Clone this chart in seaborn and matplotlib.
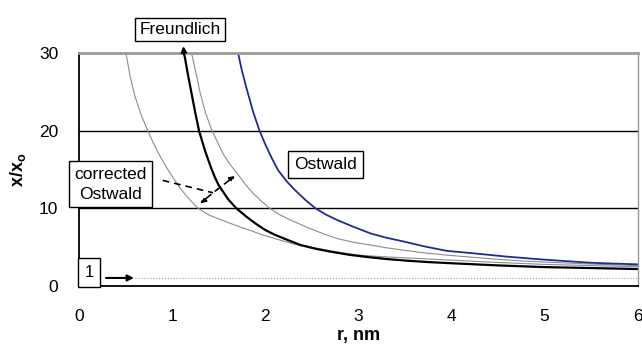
import numpy as np
import pandas as pd
import matplotlib
matplotlib.use('Agg')
import matplotlib.pyplot as plt
import seaborn as sns

# Values
r_ostwald = [1.71, 1.75, 1.80, 1.87, 1.94, 2.00, 2.07, 2.14, 2.23, 2.32, 2.43, 2.54, 2.65, 2.77,
             2.95, 3.13, 3.30, 3.49, 3.70, 3.95, 4.24, 4.60, 4.96, 5.20, 5.49, 5.75, 6.00]
y_ostwald = [30.0, 27.8, 25.5, 22.5, 20.0, 18.3, 16.5, 14.9, 13.5, 12.35, 11.1, 10.0, 9.2, 8.5,
             7.6, 6.76, 6.2, 5.7, 5.1, 4.5, 4.18, 3.75, 3.4, 3.2, 2.97, 2.85, 2.76]

r_freundlich = [1.13, 1.17, 1.21, 1.25, 1.29, 1.355, 1.42, 1.46, 1.50, 1.60, 1.69, 1.80, 1.90, 2.00,
                2.10, 2.20, 2.38, 2.55, 2.70, 2.90, 3.10, 3.30, 3.50, 3.75, 4.00, 4.50, 5.00, 5.50,
                6.00]
y_freundlich = [30.0, 27.3, 24.8, 22.3, 20.0, 17.4, 15.2, 14.0, 13.0, 11.2, 10.0, 8.9, 8.0, 7.2,
                6.6, 6.1, 5.25, 4.75, 4.4, 4.0, 3.7, 3.45, 3.25, 3.05, 2.9, 2.62, 2.4, 2.28,
                2.15]

r_corr_upper = [1.21, 1.26, 1.30, 1.36, 1.43, 1.55, 1.62, 1.70, 1.78, 1.85, 1.95, 2.05, 2.15, 2.27,
                2.40, 2.52, 2.65, 2.77, 2.95, 3.13, 3.30, 3.48, 3.70, 3.95, 4.20, 4.50, 4.75, 5.00,
                5.50, 6.00]
y_corr_upper = [30.0, 27.3, 25.0, 22.3, 20.0, 17.0, 15.7, 14.5, 13.2, 12.2, 11.0, 10.0, 9.2, 8.5,
                7.8, 7.2, 6.6, 6.1, 5.6, 5.25, 4.9, 4.6, 4.25, 3.95, 3.7, 3.4, 3.2, 3.05,
                2.8, 2.6]

r_corr_lower = [0.505, 0.55, 0.60, 0.67, 0.74, 0.80, 0.85, 0.90, 0.96, 1.03, 1.10, 1.19, 1.28, 1.40,
                1.55, 1.66, 1.75, 1.85, 1.95, 2.10, 2.30, 2.55, 2.80, 3.00, 3.25, 3.50, 3.75, 4.00,
                4.50, 5.00, 5.50, 6.00]
y_corr_lower = [30.0, 27.0, 24.5, 22.0, 20.0, 18.4, 17.2, 16.1, 14.9, 13.6, 12.4, 11.1, 10.0, 9.1,
                8.4, 7.9, 7.5, 7.1, 6.65, 6.1, 5.4, 4.85, 4.3, 3.95, 3.75, 3.6, 3.45, 3.3,
                3.0, 2.75, 2.6, 2.45]

r_one = [0.6, 6.0]
y_one = [1.0, 1.0]

sns.set_style('white')
plt.rcParams['font.family'] = ['Liberation Sans', 'DejaVu Sans']
plt.rcParams['mathtext.fontset'] = 'custom'
plt.rcParams['mathtext.rm'] = 'Liberation Sans'
plt.rcParams['mathtext.bf'] = 'Liberation Sans:bold'
plt.rcParams['text.color'] = 'black'
plt.rcParams['axes.labelcolor'] = 'black'
plt.rcParams['xtick.color'] = 'black'
plt.rcParams['ytick.color'] = 'black'

fig = plt.figure(figsize=(6.42, 3.56), dpi=100)
ax = fig.add_axes([0.123, 0.1975, 0.870, 0.6525])

# grid lines at 10 and 20
for gy in [10, 20]:
    ax.axhline(gy, color='black', lw=1.0, zorder=1)

gray = '#8c8c8c'
sns.lineplot(x=r_one, y=y_one, ax=ax, color='#a0a0a0', lw=0.8, linestyle=':')
sns.lineplot(x=r_corr_lower, y=y_corr_lower, ax=ax, color=gray, lw=0.8, sort=False)
sns.lineplot(x=r_corr_upper, y=y_corr_upper, ax=ax, color=gray, lw=0.8, sort=False)
sns.lineplot(x=r_freundlich, y=y_freundlich, ax=ax, color='black', lw=1.6, sort=False)
sns.lineplot(x=r_ostwald, y=y_ostwald, ax=ax, color='#1f2b9c', lw=1.3, sort=False)

ax.set_xlim(0, 6)
ax.set_ylim(0, 30)
ax.set_xticks([0, 1, 2, 3, 4, 5, 6])
ax.set_yticks([0, 10, 20, 30])
ax.tick_params(axis='both', direction='out', length=5, width=1.2, color='black',
               labelsize=12.5, labelcolor='black')
ax.tick_params(axis='y', pad=10)
ax.tick_params(axis='x', pad=12)

for side in ['left', 'bottom']:
    ax.spines[side].set_color('black')
    ax.spines[side].set_linewidth(1.3)
ax.spines['top'].set_color('#999999')
ax.spines['top'].set_linewidth(2.0)
ax.spines['right'].set_color('#999999')
ax.spines['right'].set_linewidth(1.0)

ax.set_xlabel('r, nm', fontsize=13, fontweight='bold', labelpad=2, color='black')
ax.set_ylabel(r'$\mathbf{x/x_o}$', fontsize=13, labelpad=8, color='black')

# Freundlich label with arrow from the curve
ax.text(1.086, 33.1, 'Freundlich', ha='center', va='center', fontsize=12.5,
        bbox=dict(boxstyle='square,pad=0.25', fc='white', ec='black', lw=1.0),
        clip_on=False)
ax.annotate('', xy=(1.12, 31.3), xytext=(1.13, 29.5),
            arrowprops=dict(arrowstyle='-|>', color='black', lw=1.5,
                            mutation_scale=8), annotation_clip=False)

# Ostwald label
ax.text(2.645, 15.6, 'Ostwald', ha='center', va='center', fontsize=12.5,
        bbox=dict(boxstyle='square,pad=0.35', fc='white', ec='black', lw=1.0), zorder=5)

# corrected Ostwald label with dashed arrows
ax.text(0.34, 13.1, 'corrected\nOstwald', ha='center', va='center', fontsize=12.5,
        bbox=dict(boxstyle='square,pad=0.3', fc='white', ec='black', lw=1.0),
        linespacing=1.45, clip_on=False, zorder=5)
ax.plot([0.90, 1.44], [13.6, 12.0], color='black', lw=1.2, linestyle=(0, (4, 3)))
for tx, ty in [(1.70, 14.4), (1.28, 10.4)]:
    ax.annotate('', xy=(tx, ty), xytext=(1.44, 12.0),
                arrowprops=dict(arrowstyle='-|>', color='black', lw=1.2,
                                linestyle=(0, (4, 3)), mutation_scale=8))

# "1" label with arrow
ax.text(0.11, 1.7, '1', ha='center', va='center', fontsize=12,
        bbox=dict(boxstyle='square,pad=0.4', fc='white', ec='black', lw=1.0),
        zorder=5, clip_on=False)
ax.annotate('', xy=(0.62, 1.0), xytext=(0.26, 1.0),
            arrowprops=dict(arrowstyle='-|>', color='black', lw=1.5,
                            mutation_scale=9))

fig.savefig('out.png', dpi=100)
